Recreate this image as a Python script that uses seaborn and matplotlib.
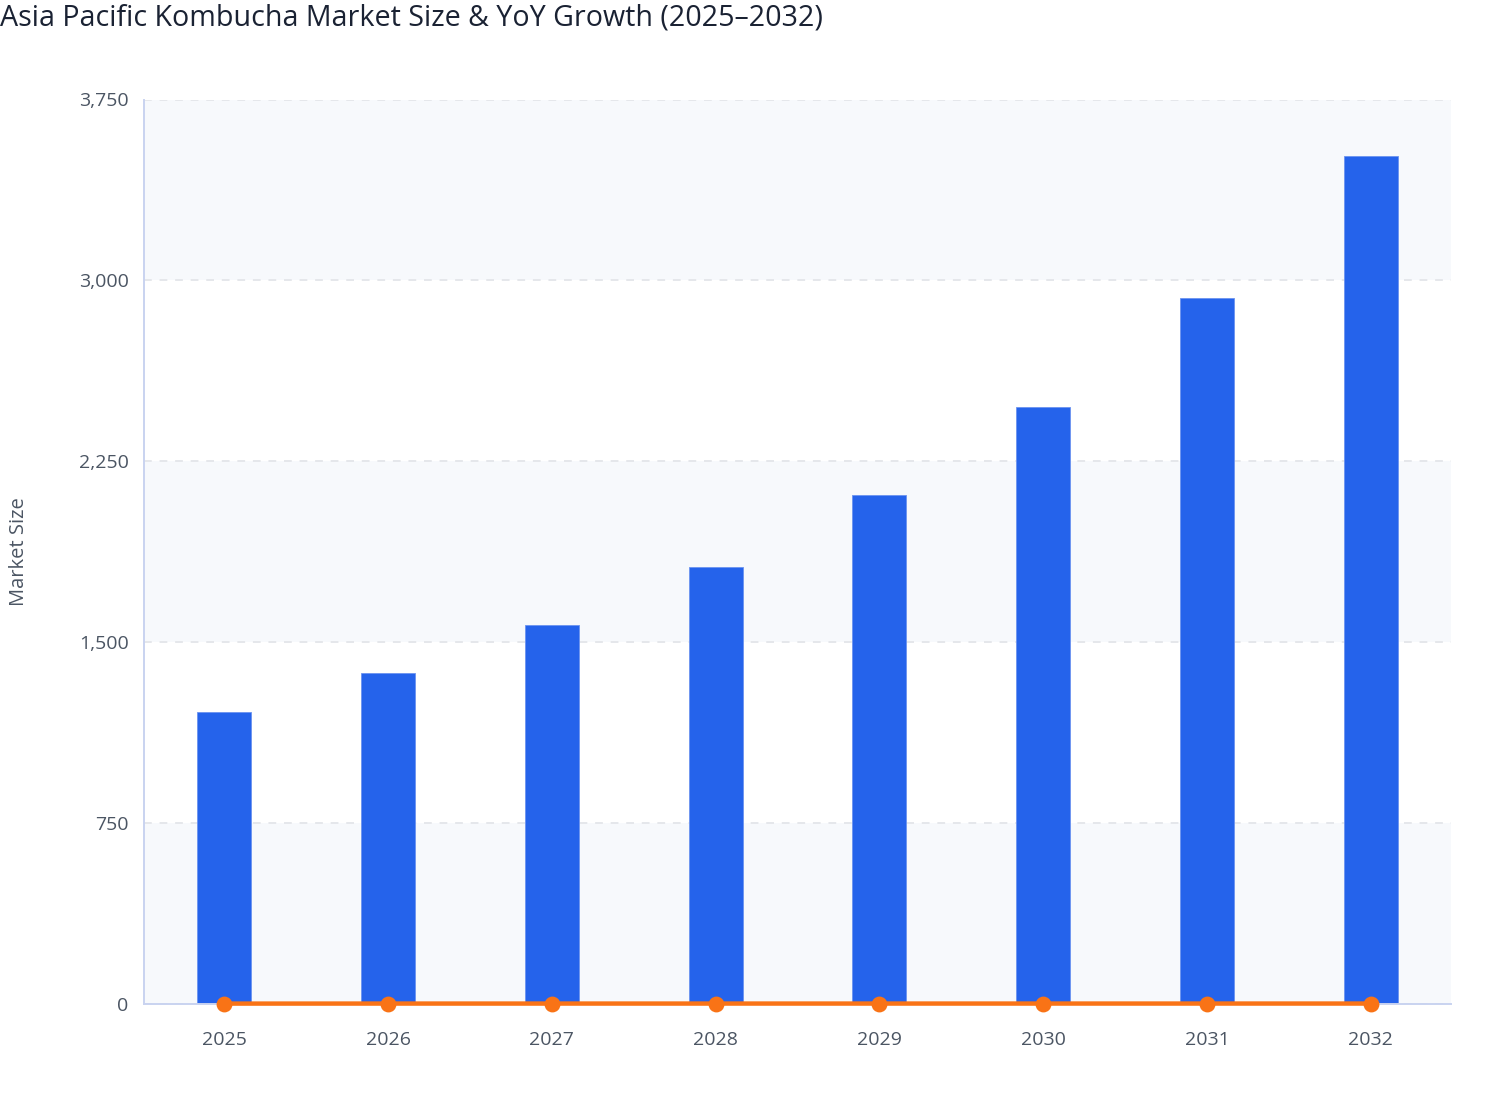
import numpy as np
import pandas as pd
import matplotlib
matplotlib.use("Agg")
import matplotlib.pyplot as plt
import seaborn as sns
from matplotlib.ticker import FuncFormatter

# Data
years = ["2025", "2026", "2027", "2028", "2029", "2030", "2031", "2032"]
market_size = [1210, 1372, 1570, 1811, 2108, 2473, 2927, 3517]
# YoY growth (as fraction) - sits on the same axis, so it hugs zero
yoy_growth = [0.0, 0.134, 0.144, 0.153, 0.164, 0.173, 0.184, 0.202]
y_ticks = [0, 750, 1500, 2250, 3000, 3750]

df = pd.DataFrame({"Year": years, "Market Size": market_size, "YoY Growth": yoy_growth})

sns.set_theme(style="white")
plt.rcParams["font.family"] = ["Open Sans", "DejaVu Sans"]

bar_color = "#2563eb"
line_color = "#f97316"
axis_color = "#c9d3f0"
text_color = "#4b5563"

fig = plt.figure(figsize=(15.08, 11.2), dpi=100)
ax = fig.add_axes([144 / 1508, (1120 - 1003.6) / 1120, (1451 - 144) / 1508, (1003.6 - 99.5) / 1120])
ax.set_facecolor("white")

# alternating background bands
for i in range(len(y_ticks) - 1):
    if i % 2 == 0:
        ax.axhspan(y_ticks[i], y_ticks[i + 1], color="#f7f9fc", zorder=0, lw=0)

sns.barplot(data=df, x="Year", y="Market Size", color=bar_color, width=0.33,
            saturation=1, edgecolor="#6b93f0", linewidth=0.6, ax=ax, zorder=2)

sns.pointplot(data=df, x="Year", y="YoY Growth", color=line_color, ax=ax,
              markers="o", markersize=9, linewidth=3.2, zorder=4)
for ln in ax.lines:
    ln.set_clip_on(False)

ax.set_ylim(0, 3750)
ax.set_xlim(-0.49, 7.49)
ax.set_yticks(y_ticks)
ax.yaxis.set_major_formatter(FuncFormatter(lambda v, p: f"{int(v):,}"))
ax.grid(axis="y", color="#e5e7eb", linestyle=(0, (4, 4)), linewidth=1.4, zorder=1)
ax.set_axisbelow(True)

for side in ["top", "right"]:
    ax.spines[side].set_visible(False)
for side in ["left", "bottom"]:
    ax.spines[side].set_color(axis_color)
    ax.spines[side].set_linewidth(1.4)

ax.tick_params(axis="both", colors=axis_color, labelcolor=text_color, labelsize=14,
               length=7, width=1.2)
ax.tick_params(axis="x", pad=13)
ax.tick_params(axis="y", pad=4)
ax.set_xlabel("")
ax.set_ylabel("Market Size", fontsize=14.5, color=text_color)
ax.yaxis.set_label_coords((29 - 144) / 1307, 0.5)

fig.text(0.0, 1 - 18 / 1120, "Asia Pacific Kombucha Market Size & YoY Growth (2025\u20132032)",
         fontsize=20.6, color="#1a2233", ha="left", va="center")

fig.savefig("out.png", dpi=100)
